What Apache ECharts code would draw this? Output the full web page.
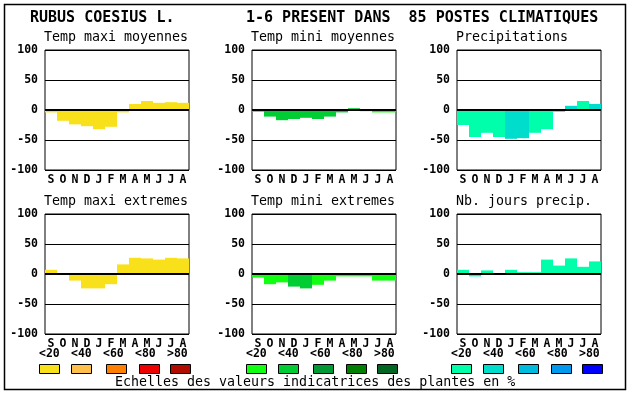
<!DOCTYPE html>
<html>
<head>
<meta charset="utf-8">
<script src="https://cdn.jsdelivr.net/npm/echarts@6/dist/echarts.min.js"></script>
<style>
html,body{margin:0;padding:0;background:#fff;}
#chart{width:630px;height:394px;}
</style>
</head>
<body>
<div id="chart"></div>
<script>
// ---- data ----
var months = ['S','O','N','D','J','F','M','A','M','J','J','A'];
var yTicks = [-100, -50, 0, 50, 100];
var headerLeft = 'RUBUS COESIUS L.';
var headerRight = '1-6 PRESENT DANS  85 POSTES CLIMATIQUES';
var footer = 'Echelles des valeurs indicatrices des plantes en %';
var scaleLabels = ['<20','<40','<60','<80','>80'];

var panelTitles = ['Temp maxi moyennes','Temp mini moyennes','Precipitations',
                   'Temp maxi extremes','Temp mini extremes','Nb. jours precip.'];

var tmaxMoy = [-4,-18,-24,-27,-32,-28,-4,10,15,12,13,12];
var tminMoy = [-3,-11,-17,-15,-13,-15,-11,-4,3,-2,-4,-4];
var precip  = [-25,-45,-38,-45,-48,-47,-38,-32,-3,7,15,10];
var tmaxExt = [7,0,-11,-24,-24,-17,16,27,26,24,27,26];
var tminExt = [-6,-17,-14,-21,-24,-18,-11,-4,-4,-4,-11,-11];
var nbJours = [7,-4,6,0,7,3,3,24,14,26,12,21];

// indicator class of each bar (0:<20 ... 4:>80)
var tmaxMoyCls = [0,0,0,0,0,0,0,0,0,0,0,0];
var tminMoyCls = [0,1,1,1,1,1,1,1,1,0,0,0];
var precipCls  = [0,0,0,0,1,1,0,0,0,1,0,1];
var tmaxExtCls = [0,0,0,0,0,0,0,0,0,0,0,0];
var tminExtCls = [0,0,0,1,1,0,0,0,0,0,0,0];
var nbJoursCls = [0,0,0,0,0,0,0,0,0,0,0,0];

// ---- styles ----
var palMax = ['#F8E11B','#FFC04B','#FF8000','#EE0000','#B00C00'];
var palMin = ['#11FF11','#00CC33','#009933','#008000','#006622'];
var palPre = ['#00FFAA','#00DDCC','#00BBDD','#0099EE','#0000FF'];

var panels = [
  {vals: tmaxMoy, cls: tmaxMoyCls, pal: palMax},
  {vals: tminMoy, cls: tminMoyCls, pal: palMin},
  {vals: precip,  cls: precipCls,  pal: palPre},
  {vals: tmaxExt, cls: tmaxExtCls, pal: palMax},
  {vals: tminExt, cls: tminExtCls, pal: palMin},
  {vals: nbJours, cls: nbJoursCls, pal: palPre}
];
var colLeft = [45, 252, 457];
var rowTop = [50, 214];
var gW = 144, gH = 120;
var mono = 'DejaVu Sans Mono';

var grids = [], xAxes = [], yAxes = [], series = [], graphics = [];

panels.forEach(function(p, i){
  var c = i % 3, r = Math.floor(i / 3);
  grids.push({left: colLeft[c], top: rowTop[r], width: gW, height: gH,
    show: true, borderColor: '#000', borderWidth: 1, backgroundColor: '#fff', containLabel: false});
  xAxes.push({type: 'category', gridIndex: i, data: months, boundaryGap: true,
    axisLine: {show: false}, axisTick: {show: false}, splitLine: {show: false},
    axisLabel: {interval: 0, margin: 4, color: '#000', fontFamily: mono, fontWeight: 'bold', fontSize: 11.5}});
  yAxes.push({type: 'value', gridIndex: i, min: yTicks[0], max: yTicks[yTicks.length-1], interval: 50,
    axisLine: {show: false}, axisTick: {show: false},
    splitLine: {show: true, lineStyle: {color: '#000', width: 1}},
    axisLabel: {margin: 7, color: '#000', fontFamily: mono, fontWeight: 'bold', fontSize: 11.5}});
  series.push({type: 'bar', xAxisIndex: i, yAxisIndex: i, barCategoryGap: 0, barGap: 0,
    data: p.vals.map(function(v, k){ return {value: v, itemStyle: {color: p.pal[p.cls[k]]}}; }),
    markLine: {silent: true, symbol: 'none', animation: false, label: {show: false},
      lineStyle: {color: '#000', width: 2, type: 'solid'}, data: [{yAxis: 0}]},
    z: 2});
  graphics.push({type: 'text', left: colLeft[c] - 1, top: rowTop[r] - 19,
    style: {text: panelTitles[i], font: '13.3px "' + mono + '"', fill: '#000'}});
});

// colour scale legends
var boxOff = [0, 32, 67, 100, 131];
var labOff = [0, 32, 64, 96, 128];
var pals = [palMax, palMin, palPre];
colLeft.forEach(function(x0, c){
  var base = x0 - 6;
  for (var k = 0; k < 5; k++) {
    graphics.push({type: 'text', left: base + labOff[k], top: 348,
      style: {text: scaleLabels[k], font: 'bold 11.5px "' + mono + '"', fill: '#000'}});
    graphics.push({type: 'rect', shape: {x: base + boxOff[k] + 0.5, y: 364.5, width: 20, height: 9},
      style: {fill: pals[c][k], stroke: '#000', lineWidth: 1}});
  }
});

graphics.push({type: 'rect', shape: {x: 4.5, y: 4.5, width: 621, height: 385},
  style: {fill: 'none', stroke: '#000', lineWidth: 1.5}, z: 100});
graphics.push({type: 'text', left: 30, top: 11,
  style: {text: headerLeft, font: 'bold 15px "' + mono + '"', fill: '#000'}});
graphics.push({type: 'text', left: 246, top: 11,
  style: {text: headerRight, font: 'bold 15px "' + mono + '"', fill: '#000'}});
graphics.push({type: 'text', left: 115, top: 376,
  style: {text: footer, font: '13.3px "' + mono + '"', fill: '#000'}});

var chart = echarts.init(document.getElementById('chart'), null, {renderer: 'canvas'});
chart.setOption({
  animation: false,
  backgroundColor: '#fff',
  grid: grids, xAxis: xAxes, yAxis: yAxes, series: series,
  graphic: graphics
});
</script>
</body>
</html>
